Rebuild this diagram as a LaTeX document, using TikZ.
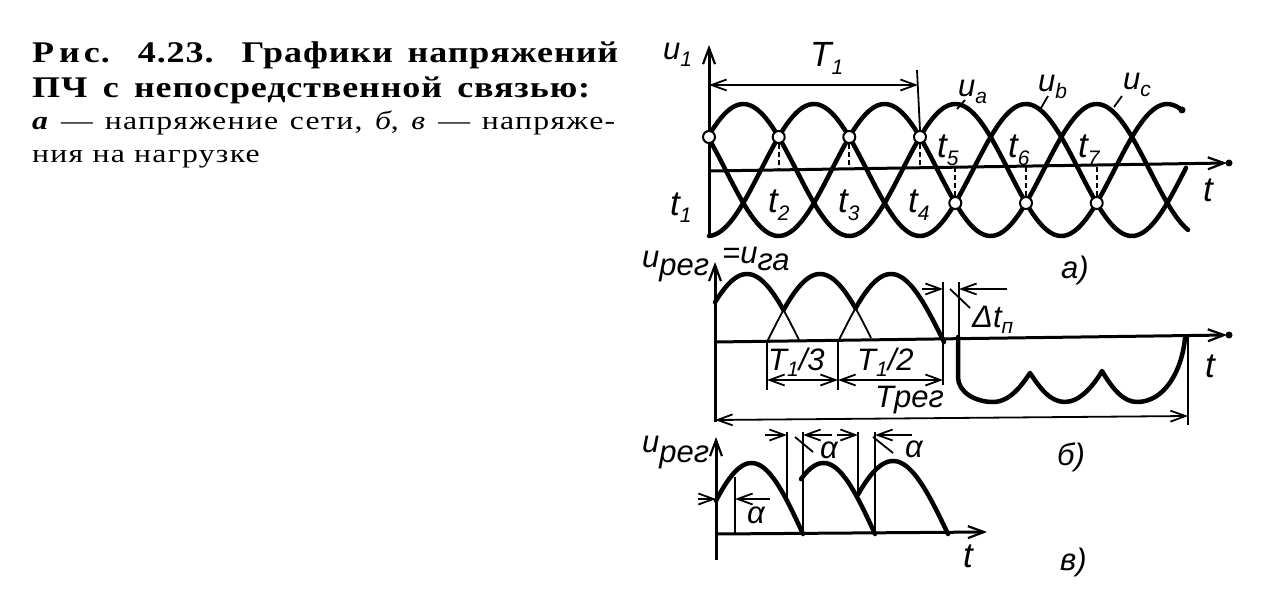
\documentclass[tikz,border=0pt]{standalone}
\usepackage{fontspec}
\setmainfont{Liberation Serif}
\newfontfamily\labfont{Liberation Sans}
\newfontfamily\capfont[LetterSpace=3,FakeStretch=1.2]{Liberation Serif}
\newfontfamily\capsmfont[LetterSpace=5,FakeStretch=1.22]{Liberation Serif}
\usetikzlibrary{arrows.meta}
\newcommand\lsb[1]{\raisebox{-0.22em}{\fontsize{21}{21}\selectfont #1}}
\begin{document}
\begin{tikzpicture}[x=1pt,y=-1pt,
 curve/.style={line width=4.5pt,line cap=round,line join=round},
 thincurve/.style={line width=1.8pt},
 axisln/.style={line width=3pt,-{Straight Barb[length=16pt,width=12pt,line width=2.2pt]}},
 dimln/.style={line width=1.8pt},
 tip/.style={-{Straight Barb[length=15pt,width=11pt,line width=1.8pt]}},
 tips/.style={{Straight Barb[length=15pt,width=11pt,line width=1.8pt]}-{Straight Barb[length=15pt,width=11pt,line width=1.8pt]}},
 dashln/.style={line width=2pt,dash pattern=on 5pt off 3pt},
 ring/.style={circle,draw,fill=white,line width=2pt,minimum size=12pt,inner sep=0pt},
 lbl/.style={anchor=base west,inner sep=0pt,font=\labfont\itshape\fontsize{31}{31}\selectfont},
 tlbl/.style={lbl,font=\labfont\itshape\fontsize{35}{35}\selectfont},
 captxt/.style={anchor=base west,inner sep=0pt},
 capbig/.style={captxt,font=\capfont\bfseries\fontsize{30}{30}\selectfont},
 capsmall/.style={captxt,font=\capsmfont\fontsize{26}{26}\selectfont},
]
\useasboundingbox (0,0) rectangle (1277,604);

% ---------- caption ----------
\node[capbig] (cap1) at (32,63) {\makebox[586pt][s]{Р\kern5pt и\kern4pt с. 4.23. Графики напряжений}};
\node[capbig] (cap2) at (32,98) {\makebox[558pt][s]{ПЧ с непосредственной связью:}};
\node[capsmall] (cap3) at (32,130) {\makebox[583pt][s]{\textbf{\textit{а}} — напряжение сети, \textit{б}, \textit{в} — напряже-}};
\node[capsmall] (cap4) at (32,163) {ния на нагрузке};

% ---------- graph a ----------
\coordinate (aO) at (709,238);
\coordinate (aTop) at (709,45);
\coordinate (aL) at (709,171);
\coordinate (aR) at (1227,163);
\draw[axisln] (aO) -- (aTop);
\draw[axisln] (aL) -- (aR);
\fill (1229,163) circle (3.5pt);

\draw[curve,domain=709:1182,samples=160] plot (\x,{170-66*cos((\x-743.3)/212*360)});
\draw[curve,domain=709:1186,samples=160] plot (\x,{170-66*cos((\x-813.9)/212*360)});
\draw[curve,domain=709:1188,samples=160] plot (\x,{170-66*cos((\x-884.6)/212*360)});
\fill (1182,110) circle (3.5pt);

\node[ring] (c1) at (709,137) {};
\node[ring] (c2) at (778.7,137) {};
\node[ring] (c3) at (849.3,137) {};
\node[ring] (c4) at (920,137) {};
\node[ring] (c5) at (955.3,203) {};
\node[ring] (c6) at (1026,203) {};
\node[ring] (c7) at (1096.7,203) {};
\coordinate (d2) at (778.7,169.9);
\coordinate (d3) at (849.3,168.8);
\coordinate (d4) at (920,167.7);
\coordinate (d5) at (955.3,167.2);
\coordinate (d6) at (1026,166.1);
\coordinate (d7) at (1096.7,165.0);
\draw[dashln] (c2.south) -- (d2);
\draw[dashln] (c3.south) -- (d3);
\draw[dashln] (c4.south) -- (d4);
\draw[dashln] (c5.north) -- (d5);
\draw[dashln] (c6.north) -- (d6);
\draw[dashln] (c7.north) -- (d7);

\coordinate (T1a) at (709,85);
\coordinate (T1b) at (918,85);
\coordinate (T1t) at (917,70);
\draw[dimln,tips] (T1a) -- (T1b);
\draw[dimln] (T1t) -- (c4.north);

\node[lbl] (lu1) at (663,60) {u\lsb{1}};
\node[tlbl] (lT1) at (810,67) {T\lsb{1}};
\node[tlbl] (lt1) at (670,215) {t\lsb{1}};
\node[tlbl] (lt2) at (768,213) {t\lsb{2}};
\node[tlbl] (lt3) at (838,213) {t\lsb{3}};
\node[tlbl] (lt4) at (908,213) {t\lsb{4}};
\node[tlbl] (lt5) at (937,158) {t\lsb{5}};
\node[tlbl] (lt6) at (1008,158) {t\lsb{6}};
\node[tlbl] (lt7) at (1078,158) {t\lsb{7}};
\node[lbl] (lua) at (958,97) {u\lsb{a}};
\node[lbl] (lub) at (1038,92) {u\lsb{b}};
\node[lbl] (luc) at (1123,90) {u\lsb{c}};
\draw[dimln] (965,100) -- (957,109);
\draw[dimln] (1048,96) -- (1041,108);
\draw[dimln] (1122,96) -- (1114,107);
\node[tlbl] (lta) at (1203,202) {t};
\node[lbl] (la) at (1061,278) {а)};

% ---------- graph b ----------
\coordinate (bO) at (715,422);
\coordinate (bTop) at (715,262);
\coordinate (bL) at (715,342);
\coordinate (bR) at (1227,335);
\draw[axisln] (bO) -- (bTop);
\draw[axisln] (bL) -- (bR);
\fill (1229,335) circle (3.5pt);

\draw[curve,domain=715:783.5,samples=60] plot (\x,{342-68*sin((\x-694)/106*180)});
\draw[thincurve,domain=783.5:799,samples=20] plot (\x,{342-68*sin((\x-694)/106*180)});
\draw[thincurve,domain=767:783.5,samples=20] plot (\x,{342-68*sin((\x-767)/106*180)});
\draw[curve,domain=783.5:855.5,samples=60] plot (\x,{342-68*sin((\x-767)/106*180)});
\draw[thincurve,domain=855.5:871,samples=20] plot (\x,{342-68*sin((\x-767)/106*180)});
\draw[thincurve,domain=838:855.5,samples=20] plot (\x,{342-68*sin((\x-838)/106*180)});
\draw[curve,domain=855.5:944,samples=60] plot (\x,{342-68*sin((\x-838)/106*180)});

\draw[curve] (958,337) -- (958,377)
  .. controls (958,392) and (975,402) .. (993,402)
  .. controls (1010,402) and (1022,385) .. (1030,373)
  .. controls (1040,388) and (1050,402) .. (1065,402)
  .. controls (1080,402) and (1094,385) .. (1102,371)
  .. controls (1112,388) and (1123,402) .. (1137,402)
  .. controls (1165,402) and (1182,370) .. (1185,338);

\draw[dimln] (943,282) -- (943,385);
\draw[dimln] (959,282) -- (959,337);
\draw[dimln,tip] (922,289) -- (943,289);
\draw[dimln,tip] (1007,289) -- (959,289);
\draw[dimln] (950,289) -- (970,308);
\node[lbl] (ldt) at (972,327) {Δt\lsb{п}};

\draw[dimln] (767,342) -- (767,390);
\draw[dimln] (838,342) -- (838,390);
\draw[dimln,tips] (767,380) -- (838,380);
\draw[dimln,tips] (838,380) -- (943,380);
\node[lbl] (lT13) at (768,370) {T\lsb{1}/3};
\node[lbl] (lT12) at (857,370) {T\lsb{1}/2};
\draw[dimln] (1188,336) -- (1188,425);
\draw[dimln,tips] (715,420) -- (1188,416);
\node[lbl] (lTreg) at (875,407) {Tрег};
\node[lbl] (lureg) at (642,267) {u\raisebox{-9pt}{рег}};
\node[lbl] (luga) at (722,263) {=u\raisebox{-7pt}{га}};
\node[tlbl] (ltb) at (1205,377) {t};
\node[lbl] (lb) at (1057,465) {б)};

% ---------- graph v ----------
\coordinate (cO) at (716,560);
\coordinate (cTop) at (716,437);
\coordinate (cL) at (716,534);
\coordinate (cR) at (987,532);
\draw[axisln] (cO) -- (cTop);
\draw[axisln] (cL) -- (cR);

\draw[curve,domain=716:803,samples=60] plot (\x,{534-71*sin((\x-700)/103*180)});
\draw[curve,domain=801:875,samples=60] plot (\x,{534-71*sin((\x-772)/103*180)});
\draw[curve,domain=858:948,samples=60] plot (\x,{534-73*sin((\x-838)/110*180)});

\draw[dimln] (787,432) -- (787,500);
\draw[dimln] (803,432) -- (803,534);
\draw[dimln] (858,432) -- (858,497);
\draw[dimln] (875,432) -- (875,534);
\draw[dimln] (735,477) -- (735,534);
\draw[dimln,tip] (765,435) -- (787,435);
\draw[dimln,tip] (832,435) -- (803,435);
\draw[dimln,tip] (837,435) -- (858,435);
\draw[dimln,tip] (912,435) -- (875,435);
\draw[dimln] (795,437) -- (813,452);
\draw[dimln] (873,437) -- (893,453);
\draw[dimln,tip] (698,499) -- (716,499);
\draw[dimln,tip] (770,499) -- (735,499);
\node[lbl] (lal1) at (820,458) {α};
\node[lbl] (lal2) at (905,457) {α};
\node[lbl] (lal3) at (747,523) {α};
\node[lbl] (lurc) at (642,452) {u\raisebox{-10pt}{рег}};
\node[tlbl] (ltc) at (963,567) {t};
\node[lbl] (lc) at (1060,570) {в)};
\end{tikzpicture}
\end{document}
